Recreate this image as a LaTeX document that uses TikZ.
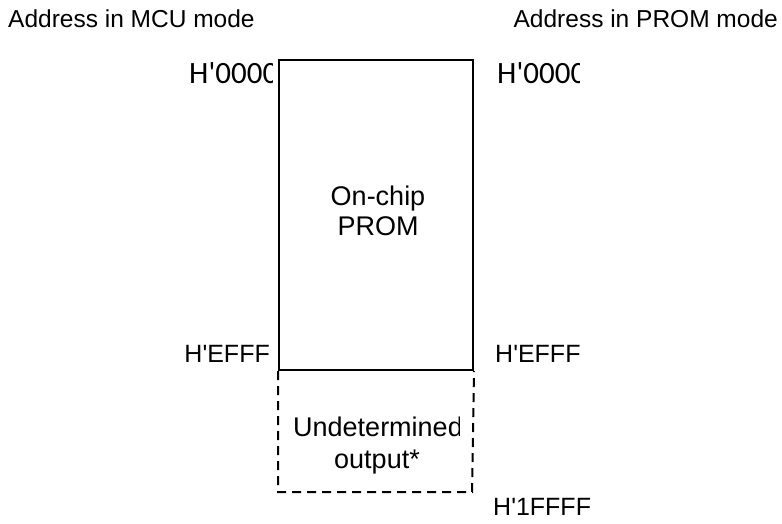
\documentclass[tikz,border=0pt]{standalone}
\usepackage{fontspec}
\setmainfont{Liberation Sans}
\newfontfamily\calib{Carlito}
\begin{document}
\begin{tikzpicture}[x=1pt,y=-1pt,
  lbl/.style={inner sep=0pt, font=\fontsize{24.5}{28}\selectfont},
  addr/.style={inner sep=0pt, font=\fontsize{25}{28}\selectfont},
  addrc/.style={inner sep=0pt, font=\calib\fontsize{31}{34}\selectfont},
  inbox/.style={inner sep=0pt, align=center, font=\fontsize{27}{30}\selectfont},
  solidbox/.style={draw=black, line width=2pt, inner sep=0pt, minimum width=194pt, minimum height=310pt},
  dashbox/.style={draw=black, line width=2pt, dash pattern=on 9pt off 6pt}]
\useasboundingbox (0,0) rectangle (782,524);
\node[lbl, anchor=base west] (hmcu) at (8,28) {Address in MCU mode};
\node[lbl, anchor=base east] (hprom) at (778,28) {Address in PROM mode};
\node[solidbox, anchor=north west] (prom) at (278,59) {};
\coordinate (ubl) at (278,492);
\coordinate (ubr) at (472,492);
\draw[dashbox] (prom.south west) -- (ubl) -- (ubr) -- (prom.south east);
\node[inbox, anchor=base] (t1) at (378,205) {On-chip};
\node[inbox, anchor=base] (t2) at (378,235) {PROM};
\begin{scope}
\clip (150,40) rectangle (272,100);
\node[addrc, anchor=base west] (l0) at (189,84) {H'0000};
\end{scope}
\begin{scope}
\clip (480,40) rectangle (579,100);
\node[addrc, anchor=base west] (r0) at (497,84) {H'0000};
\end{scope}
\node[addr, anchor=base east] (le) at (270,362) {H\textquotesingle EFFF};
\node[addr, anchor=base west] (re) at (495,362) {H\textquotesingle EFFF};
\begin{scope}
\clip (285,400) rectangle (459,445);
\node[inbox, anchor=base west] (u1) at (293,436) {Undetermined};
\end{scope}
\node[inbox, anchor=base] (u2) at (377,468) {output*};
\node[addr, anchor=base west] (r1) at (493,515) {H\textquotesingle 1FFFF};
\end{tikzpicture}
\end{document}
